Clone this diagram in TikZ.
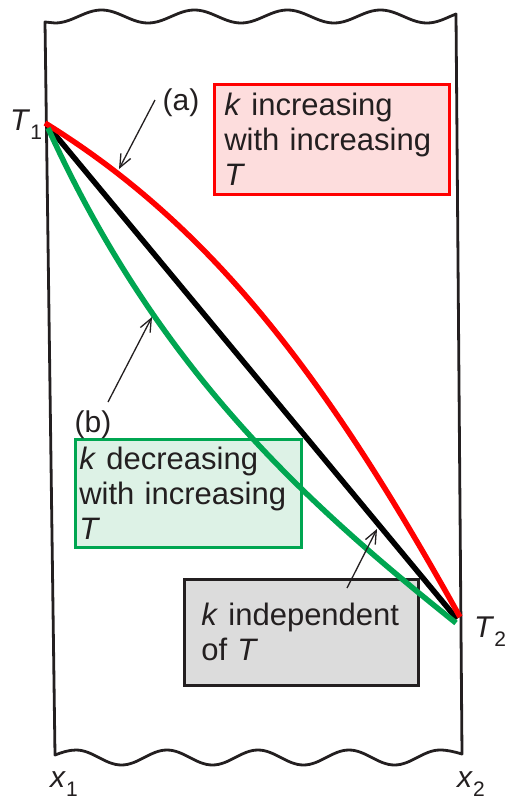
\documentclass[tikz,border=0pt]{standalone}
\usepackage{fontspec}
\setmainfont{Liberation Sans}
\usepackage{tikz}
\usetikzlibrary{arrows.meta,positioning}
\definecolor{cRed}{HTML}{FF0000}
\definecolor{cRedFill}{HTML}{FDDDDD}
\definecolor{cGreen}{HTML}{00A651}
\definecolor{cGreenFill}{HTML}{DDF2E6}
\definecolor{cGrey}{HTML}{DCDCDC}
\definecolor{cInk}{HTML}{231F20}
\newcommand{\lowsub}[1]{\raisebox{-0.3em}{\fontsize{21}{21}\selectfont #1}}
\tikzset{
  slab/.style    = {draw=cInk, line width=2.8pt, line join=round},
  prof/.style    = {line width=5.5pt},
  box/.style     = {rectangle, line width=2.6pt, align=left, anchor=north west,
                    inner ysep=0pt, text=cInk, font=\fontsize{31}{35}\selectfont},
  redbox/.style  = {box, draw=cRed, fill=cRedFill},
  greenbox/.style= {box, draw=cGreen, fill=cGreenFill},
  greybox/.style = {box, draw=cInk, fill=cGrey},
  tag/.style     = {inner sep=0pt, anchor=base west, text=cInk,
                    font=\fontsize{30}{30}\selectfont},
  pointer/.style = {draw=cInk, line width=1.3pt,
                    -{Straight Barb[length=13pt,width=11pt]}},
}

\begin{document}
\begin{tikzpicture}[x=1pt,y=-1pt]
  \useasboundingbox (0,0) rectangle (506,803);
  % slab with broken-off top and bottom
  \draw[slab] (45,22) -- (55,23)
    \foreach \i in {1,...,4} {cos ++(23.25,-6.5) sin ++(23.25,-6.5)
                              cos ++(23.25,6.5) sin ++(23.25,6.5)}
    cos ++(23,-6.5) -- (456,14) -- (462,754) sin ++(-22,-4)
    \foreach \i in {1,...,4} {cos ++(-22.75,7.5) sin ++(-22.75,7.5)
                              cos ++(-22.75,-7.5) sin ++(-22.75,-7.5)}
    cos ++(-21,5) -- cycle;

  \node[redbox, minimum width=235pt, minimum height=110pt, inner xsep=10pt,
        text width=215pt] (incr) at (213,83)
    {\textit{k} increasing\\with increasing\\\textit{T}};
  \node[greenbox, minimum width=226pt, minimum height=108pt, inner xsep=4pt,
        text width=218pt] (decr) at (74,438)
    {\textit{k} decreasing\\with increasing\\\textit{T}};
  \node[greybox, minimum width=234pt, minimum height=106pt, inner xsep=17pt,
        text width=200pt] (indep) at (183,578)
    {\textit{k} independent\\of \textit{T}};

  \coordinate (T1) at (47,125);
  \coordinate (T2) at (457,619);
  \draw[prof, draw=black] (T1) -- (T2);
  \draw[prof, draw=cRed] (45,123) .. controls (215,228) and (330,383) .. (460,617);
  \draw[prof, draw=cGreen] (48,128) .. controls (158,370) and (306,503) .. (456,623);

  \node[tag, anchor=center] (labA) at (181,103) {(a)};
  \node[tag, anchor=center] (labB) at (93,425) {(b)};
  \coordinate (srcA) at (155,100);
  \coordinate (tipA) at (119,169);
  \coordinate (srcB) at (108,402);
  \coordinate (tipB) at (152,317);
  \coordinate (srcC) at (347,588);
  \coordinate (tipC) at (377,529);
  \draw[pointer] (srcA) -- (tipA);
  \draw[pointer] (srcB) -- (tipB);
  \draw[pointer] (srcC) -- (tipC);

  \node[tag] (lT1) at (10,130) {\textit{T}\lowsub{1}};
  \node[tag] (lT2) at (474,637) {\textit{T}\lowsub{2}};
  \node[tag] (lx1) at (50,787) {\textit{x}\lowsub{1}};
  \node[tag] (lx2) at (457,787) {\textit{x}\lowsub{2}};
\end{tikzpicture}
\end{document}
